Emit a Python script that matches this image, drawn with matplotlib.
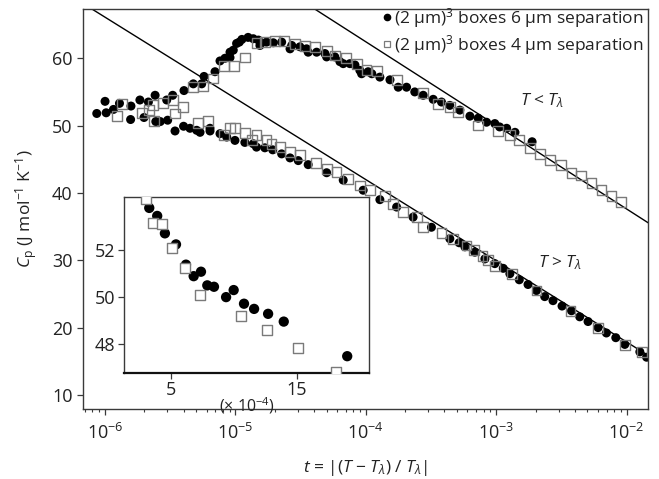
import matplotlib
matplotlib.use('Agg')
import matplotlib.pyplot as plt
from matplotlib.lines import Line2D

plt.rcParams['font.family'] = ['Open Sans', 'DejaVu Sans']
plt.rcParams['mathtext.fontset'] = 'custom'
plt.rcParams['mathtext.rm'] = 'Open Sans'
plt.rcParams['mathtext.it'] = 'Open Sans:italic'

# ---- main panel data: filled circles = 6 um separation ----
circ_t = [8.64e-7, 1.00e-6, 1.16e-6, 1.29e-6, 1.58e-6, 1.85e-6, 2.15e-6, 2.42e-6, 2.97e-6, 3.30e-6,
          4.03e-6, 4.75e-6, 5.51e-6, 5.74e-6, 6.97e-6, 7.61e-6, 8.31e-6, 9.08e-6, 9.08e-6, 9.62e-6,
          1.02e-5, 1.07e-5, 1.12e-5, 1.25e-5, 1.37e-5, 1.50e-5, 1.54e-5, 1.73e-5, 1.95e-5, 2.26e-5,
          2.62e-5, 2.70e-5, 3.12e-5, 3.51e-5, 3.61e-5, 4.19e-5, 4.85e-5, 5.00e-5, 5.78e-5, 6.32e-5,
          6.70e-5, 7.54e-5, 8.24e-5, 8.99e-5, 9.27e-5, 1.04e-4, 1.11e-4, 1.28e-4, 1.53e-4, 1.77e-4,
          2.05e-4, 2.37e-4, 2.75e-4, 3.28e-4, 3.80e-4, 4.40e-4, 5.25e-4, 6.27e-4, 7.26e-4, 8.41e-4,
          9.74e-4, 1.06e-3, 1.20e-3, 1.39e-3, 1.88e-3,
          # above T_lambda
          1.02e-6, 1.57e-6, 1.99e-6, 2.45e-6, 2.65e-6, 3.02e-6, 3.44e-6, 4.00e-6, 4.48e-6, 5.04e-6,
          5.35e-6, 6.38e-6, 6.38e-6, 7.61e-6, 8.57e-6, 9.91e-6, 1.18e-5, 1.37e-5, 1.45e-5, 1.68e-5,
          1.93e-5, 2.26e-5, 2.62e-5, 3.03e-5, 3.61e-5, 5.00e-5, 6.70e-5, 9.53e-5, 1.28e-4, 1.72e-4,
          2.30e-4, 3.18e-4, 4.40e-4, 5.19e-4, 5.74e-4, 6.84e-4, 8.17e-4, 9.74e-4, 1.13e-3, 1.27e-3,
          1.50e-3, 1.75e-3, 2.03e-3, 2.35e-3, 2.72e-3, 3.19e-3, 3.77e-3, 4.36e-3, 5.05e-3, 6.03e-3,
          6.98e-3, 8.24e-3, 9.66e-3, 1.26e-2, 1.42e-2]
circ_cp = [51.8, 53.6, 52.4, 53.3, 52.9, 53.8, 53.5, 54.5, 53.8, 54.5,
           55.2, 56.2, 56.2, 57.3, 58.0, 59.6, 60.0, 60.1, 60.9, 61.2,
           62.2, 62.4, 62.8, 63.1, 62.9, 62.7, 61.9, 62.4, 62.3, 62.4,
           61.4, 61.9, 61.7, 61.4, 60.9, 60.9, 60.7, 60.2, 60.2, 59.5,
           59.2, 59.2, 59.0, 58.2, 57.7, 58.0, 57.7, 57.2, 56.8, 55.7,
           55.7, 55.0, 54.5, 53.9, 53.5, 53.0, 52.3, 51.4, 51.1, 50.5,
           50.3, 49.8, 49.6, 49.0, 47.6,
           51.9, 50.9, 51.2, 50.6, 50.6, 50.8, 49.2, 49.9, 49.6, 49.3,
           49.0, 49.2, 49.6, 48.8, 48.3, 47.8, 47.5, 47.3, 46.8, 46.7,
           46.4, 45.8, 45.2, 44.8, 44.2, 43.0, 41.9, 40.4, 39.0, 37.9,
           36.4, 34.9, 33.2, 32.6, 32.0, 31.2, 30.2, 29.5, 28.8, 28.0,
           27.1, 26.4, 25.5, 24.6, 24.0, 23.2, 22.5, 21.6, 20.9, 20.0,
           19.2, 18.5, 17.5, 16.4, 15.6]

# ---- open squares = 4 um separation ----
sq_t = [1.34e-6, 2.17e-6, 2.32e-6, 2.77e-6, 3.34e-6, 3.94e-6, 4.70e-6, 5.61e-6, 6.76e-6, 8.16e-6,
        9.74e-6, 1.18e-5, 1.45e-5, 1.68e-5, 2.01e-5, 2.37e-5, 2.86e-5, 3.41e-5, 4.07e-5, 5.00e-5,
        5.78e-5, 7.03e-5, 8.49e-5, 1.01e-4, 1.21e-4, 1.74e-4, 2.75e-4, 3.58e-4, 4.40e-4, 5.10e-4,
        7.26e-4, 1.03e-3, 1.27e-3, 1.50e-3, 1.81e-3, 2.15e-3, 2.57e-3, 3.12e-3, 3.77e-3, 4.49e-3,
        5.37e-3, 6.40e-3, 7.64e-3, 9.10e-3,
        # above T_lambda
        1.23e-6, 1.91e-6, 2.37e-6, 3.44e-6, 5.19e-6, 6.19e-6, 8.16e-6, 9.08e-6, 9.91e-6, 1.18e-5,
        1.33e-5, 1.45e-5, 1.73e-5, 1.89e-5, 2.19e-5, 2.62e-5, 3.12e-5, 4.14e-5, 5.00e-5, 5.96e-5,
        7.31e-5, 8.99e-5, 1.07e-4, 1.40e-4, 1.62e-4, 1.93e-4, 2.45e-4, 2.75e-4, 3.80e-4, 4.67e-4,
        5.91e-4, 6.73e-4, 7.84e-4, 8.65e-4, 9.74e-4, 1.31e-3, 2.03e-3, 3.70e-3, 6.03e-3, 9.66e-3,
        1.30e-2]
sq_cp = [53.2, 52.3, 53.0, 53.3, 53.8, 52.7, 55.7, 55.8, 57.0, 58.8,
         58.8, 60.1, 62.3, 62.4, 62.6, 62.6, 62.1, 61.8, 61.7, 61.1,
         60.4, 60.0, 59.2, 58.3, 58.1, 56.8, 54.8, 53.2, 52.7, 52.0,
         50.0, 49.2, 48.6, 47.8, 46.7, 45.8, 44.9, 44.1, 43.0, 42.6,
         41.5, 40.4, 39.5, 38.6,
         51.4, 51.9, 50.7, 51.8, 50.4, 50.7, 48.6, 49.6, 49.6, 48.9,
         47.9, 48.6, 47.9, 47.3, 46.8, 46.1, 45.6, 44.4, 43.6, 43.1,
         42.1, 41.1, 40.4, 39.6, 38.4, 37.2, 36.4, 35.0, 34.0, 33.1,
         32.2, 31.5, 30.6, 30.0, 29.2, 28.0, 25.5, 22.5, 20.0, 17.4,
         16.4]

# ---- straight-line guides (log t vs C_p), end points ----
fit_below_t = [7.95e-7, 1.45e-2]
fit_below_cp = [67.3, 15.9]
fit_above_t = [4.06e-5, 1.45e-2]
fit_above_cp = [67.3, 35.6]

# ---- inset (t in units of 1e-4) ----
ins_circ_t = [3.28, 3.91, 4.52, 5.40, 6.19, 6.80, 7.38, 7.88, 8.41, 9.37, 9.97, 10.79, 11.59, 12.70, 13.94, 18.97]
ins_circ_cp = [53.79, 53.45, 52.71, 52.24, 51.38, 50.89, 51.08, 50.50, 50.44, 50.00, 50.30, 49.72, 49.50, 49.29, 48.96, 47.49]
ins_sq_t = [2.99, 3.57, 4.29, 5.10, 6.13, 7.33, 10.53, 12.59, 15.10, 18.07]
ins_sq_cp = [54.16, 53.13, 53.09, 52.10, 51.23, 50.09, 49.18, 48.61, 47.82, 46.80]

SPINE = '#3a3a3a'
SQ_EDGE = '#7a7a7a'
TXT = '#222222'

fig = plt.figure(figsize=(6.59, 4.79), dpi=100)
ax = fig.add_axes([0.126, 0.146, 0.857, 0.835])

ax.plot(fit_below_t, fit_below_cp, color='black', lw=1.0, zorder=1)
ax.plot(fit_above_t, fit_above_cp, color='black', lw=1.0, zorder=1)
ax.scatter(circ_t, circ_cp, s=42, c='black', edgecolors='none', zorder=2)
ax.scatter(sq_t, sq_cp, s=50, marker='s', facecolors='none', edgecolors=SQ_EDGE, linewidths=1.0, zorder=3)

ax.set_xscale('log')
ax.set_xlim(6.78e-7, 1.45e-2)
ax.set_ylim(7.9, 67.3)
ax.set_yticks([10, 20, 30, 40, 50, 60])
ax.tick_params(axis='both', which='major', direction='out', length=4, width=0.9,
               color=SPINE, labelsize=13, labelcolor=TXT, top=False, right=False)
ax.tick_params(axis='x', which='minor', direction='out', length=2.5, width=0.8, color=SPINE)
ax.tick_params(axis='x', pad=6)
for sp in ax.spines.values():
    sp.set_color(SPINE)
    sp.set_linewidth(1.0)

ax.set_xlabel(r'$t$ = |($T$ $-$ $T_\lambda$) / $T_\lambda$|', fontsize=12.5, color=TXT, labelpad=11)
ax.set_ylabel(r'$C_\mathrm{p}$ (J mol$^{-1}$ K$^{-1}$)', fontsize=12.5, color=TXT, labelpad=9)

ax.text(0.812, 0.772, r'$T$ < $T_\lambda$', transform=ax.transAxes, fontsize=12.5, ha='center', va='center', color=TXT)
ax.text(0.844, 0.365, r'$T$ > $T_\lambda$', transform=ax.transAxes, fontsize=12.5, ha='center', va='center', color=TXT)

handles = [Line2D([], [], ls='none', marker='o', markersize=4.5, color='black'),
           Line2D([], [], ls='none', marker='s', markersize=5, markerfacecolor='white',
                  markeredgecolor=SQ_EDGE, markeredgewidth=0.9)]
labels = ['(2 \u00b5m)$^3$ boxes 6 \u00b5m separation', '(2 \u00b5m)$^3$ boxes 4 \u00b5m separation']
ax.legend(handles, labels, loc='upper right', bbox_to_anchor=(1.0, 1.018), frameon=False,
          fontsize=12.5, handlelength=0.5, handletextpad=0.15, borderaxespad=0.0, borderpad=0.25,
          labelspacing=0.15, labelcolor=TXT)

# ---- inset ----
axi = fig.add_axes([0.188, 0.221, 0.372, 0.368])
axi.scatter(ins_circ_t, ins_circ_cp, s=55, c='black', edgecolors='none', zorder=2)
axi.scatter(ins_sq_t, ins_sq_cp, s=60, marker='s', facecolors='white', edgecolors=SQ_EDGE, linewidths=1.0, zorder=3)
axi.set_xlim(1.27, 20.7)
axi.set_ylim(46.77, 54.26)
axi.set_xticks([5, 15])
axi.set_yticks([48, 50, 52])
axi.tick_params(direction='out', length=4, width=0.9, color=SPINE, labelsize=13, labelcolor=TXT, pad=2)
for sp in axi.spines.values():
    sp.set_color(SPINE)
    sp.set_linewidth(1.0)
axi.spines['bottom'].set_color('#111111')
axi.spines['bottom'].set_linewidth(1.6)
axi.set_xlabel('(\u00d7 10$^{-4}$)', fontsize=11.5, color=TXT, labelpad=-3)

fig.savefig('out.png', dpi=100)
